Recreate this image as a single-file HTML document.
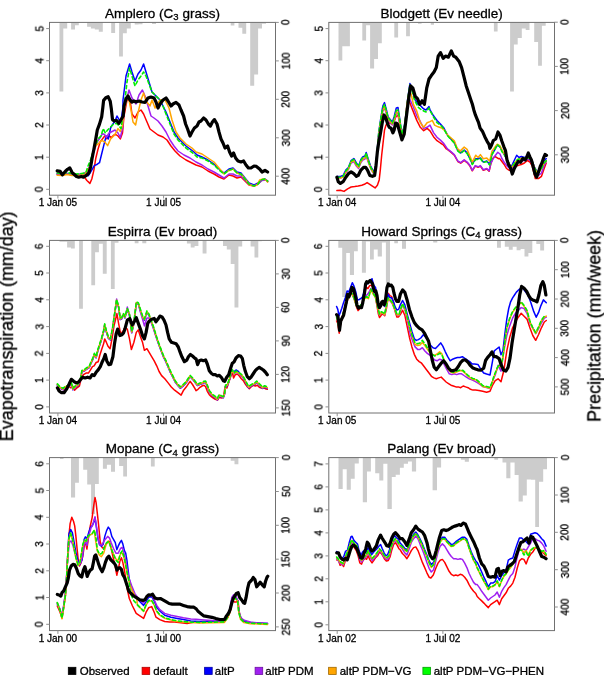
<!DOCTYPE html><html><head><meta charset="utf-8"><style>html,body{margin:0;padding:0;background:#fff;}svg{display:block;} text{will-change:transform;}</style></head><body>
<svg width="604" height="675" viewBox="0 0 604 675" font-family='"Liberation Sans", sans-serif'>
<style>text{stroke:#000;stroke-width:0.3px;}</style>
<rect width="604" height="675" fill="#fff"/>
<path d="M59.5 22.4H63.3V91.4H59.5ZM63.3 22.4H67.2V28.6H63.3ZM71.1 22.4H75V29.5H71.1ZM75 22.4H78.8V25.3H75ZM87.1 22.4H90.9V26.7H87.1ZM90.9 22.4H94.8V28.6H90.9ZM94.8 22.4H98.8V29.5H94.8ZM98.8 22.4H102.8V31.8H98.8ZM111.2 22.4H115.1V32.9H111.2ZM119.1 22.4H122.9V56.6H119.1ZM122.9 22.4H126.8V33.3H122.9ZM126.8 22.4H130.8V28.6H126.8ZM134.7 22.4H138.6V24.6H134.7ZM138.6 22.4H142.5V24.2H138.6ZM152 22.4H156V24H152ZM230.7 22.4H234.4V25.4H230.7ZM238.5 22.4H242.3V27.7H238.5ZM242.3 22.4H246.2V33.8H242.3ZM250.2 22.4H254.2V85.7H250.2ZM254.2 22.4H258.1V74.6H254.2ZM258.1 22.4H262V28.6H258.1ZM262 22.4H266V23.8H262Z" fill="#cccccc"/>
<clipPath id="c0"><rect x="49.5" y="22.4" width="226" height="172.8"/></clipPath>
<g clip-path="url(#c0)" fill="none" stroke-linejoin="round" stroke-linecap="round">
<polyline points="57.2,174.5 62.4,175.3 66.9,173.8 71.3,174.8 75.8,175.3 80.2,174.5 84.7,177.5 86.9,180.5 89.9,183.4 91.8,179 93.9,170.1 95.8,158.2 98,149.3 100.2,141.9 102.5,138.9 104.7,136 106.9,138.9 109.1,136 111.4,137.5 113.6,135.2 115.8,134.5 118,136 120.3,138.9 122.5,133 124,116 127,100 130,100 132,114 135,118 138,112 141,110 143.6,114 147,122 150,129 154,132 158,135 163,137 167,140 171,146 175,151 180,156 186,160 192,163 196,165 202,167 208,171 214,174 219,177 224,179 229,175 233,176 237,178 241,177 245,181 249,185 254,186 258,184 262,180 266,180 267.6,181.6" stroke="#ff0000" stroke-width="1.5"/>
<polyline points="57.2,173.8 62,174.5 67,173.5 72,174.5 77,175 81.7,173.8 84.7,174.5 88.4,175.7 91.3,170.8 94.3,165.6 97.3,164.2 99.5,162.7 101.7,153.8 103.9,144.9 106.2,136 108.4,138.9 110.6,127.8 112.8,124.1 115,121.1 117,116 119.1,119.7 121,121.1 122.9,107.8 123,100 126,76 129.6,64 132,72 135,81 138,74 141,70 143.6,64 146,72 149,82 152,92 156,96 160,100 163,106 166,112 170,122 174,132 178,138 182,142 186,146 190,149 194,152 197,155 202,157 208,160 214,164 219,169 224,173 229,169 233,168 237,172 241,173 245,178 249,183 254,185 258,183 261,180 265,179 267.6,181" stroke="#0000ff" stroke-width="1.5"/>
<polyline points="57.2,174 62,174.5 67,173.5 72,174.5 77,175 82,174.5 86.9,171.6 89.9,165.6 93.6,152.3 97.3,141.9 100.2,137.5 102.5,133.7 104.7,134.5 106.2,137.5 109.1,133 112.1,131.5 115,130 118,133 120.3,137.5 122.5,128.6 124,110 129,90 132,98 136,104 139,95 142.4,90 145,96 148,106 151,116 154,118 158,121 162,126 166,132 170,140 174,146 178,151 184,155 190,158 196,162 202,165 208,169 214,172 219,175 224,178 229,174 233,174 237,176 241,176 245,180 249,184 254,186 258,184 262,180.5 266,180 267.6,181.5" stroke="#a020f0" stroke-width="1.5"/>
<polyline points="57.2,175.3 62,175.5 67,174.5 72,175.5 77,175.5 82,175 84.7,175 86.9,170.8 89.9,167.1 92.8,152.3 95.8,145.6 98.7,143.4 101.7,140.4 104.7,141.9 107.6,145.6 110.6,139 113.6,136 115.8,133 118,128.6 120.3,131.5 122.5,125.6 124,110 128,95 131,110 133,122 135.6,125 138,113 141,100 143.6,93 146,101 150,106 152,100 155,108 160,100 165,100 169,108 172,120 176,132 180,138 186,144 192,148 196,152 202,154 208,158 214,162 219,168 224,174 228,171 233,169 237,173 242,175 246,180 250,185 254,186 257,185 259.6,180 263,179 266,180 267.6,182" stroke="#ffa500" stroke-width="1.5"/>
<polyline points="57.2,173 62,173.5 67,172.5 72,173.5 77,174 82,173.5 86,172.5 87.6,167.1 90.6,159.7 94.3,147.8 98,139 101,136 103.2,128.6 105.4,133 107.6,130 110.6,127 113.6,124.1 116.5,123.4 118.8,125.6 121,128.6 123.2,113.7 125,100 127,82 129.6,68 132,76 135,86 138,80 141,76 143.6,72 146,76 149,84 152,92 156,96 160,100 163,106 166,114 170,124 174,134 178,140 182,144 186,148 190,151 194,154 197,157 202,158 208,161 214,165 219,170 224,174 229,170 233,169 237,173 241,174 245,179 249,184 254,186 258,184 261,180 265,179 267.6,181" stroke="#00ee00" stroke-width="1.6" stroke-dasharray="3.2 2.8"/>
<polyline points="57.2,170.8 60.2,171.3 62.4,174.8 65.4,171.3 67.6,169.3 69.8,167.9 72,172.3 74.3,174.5 76.5,176.5 78.7,177.2 81.4,176.5 83.5,177.2 86.1,175.7 88.8,173 90.6,167.1 92.1,158.2 93.9,149.3 95.8,138.9 97.3,130 99.5,124.1 101.7,116.7 102.8,107.8 103.6,100.4 106.2,97.4 108.1,96.7 110.2,101.1 111.4,109.3 112.5,119.7 114.3,121.1 116.5,120.4 118.8,123.4 121,119.7 123.2,116 124,106 126,99 128,96 130,100 132,102 134,101 136,102 139,101 142,102 145,102.4 148,98 151,97 154,98 156,102 158,108 160,104 163,100 166,98 168,101 171,106 173,104 176,102.4 179,105 181,110 183.6,116 185.6,124 187.6,129 190,136 192,132 194.4,128 197,126 199,122 201,121 203.6,118 206,120 208.4,124 210.4,126 212.4,122 214.4,119.6 217,124 219,132 221,139 223,143 225,148 227.6,146 229.6,152 231.6,156 233.6,153 235.6,158 238,161 241,162 243.6,161 246,165 248.4,168 251,168 254,166 256.4,166.4 259.6,169 262,172 265,170.4 267.6,172" stroke="#000" stroke-width="3.2"/>
</g>
<rect x="49.5" y="22.4" width="226" height="172.8" fill="none" stroke="#707070" stroke-width="1"/>
<path d="M49.5 189.3H46.2M49.5 157.2H46.2M49.5 125H46.2M49.5 92.9H46.2M49.5 60.7H46.2M49.5 28.6H46.2M275.5 22.4H278.8M275.5 60.9H278.8M275.5 99.3H278.8M275.5 137.8H278.8M275.5 176.2H278.8M57.9 195.2V198.5M163.6 195.2V198.5" stroke="#909090" stroke-width="1" fill="none"/>
<text x="43.1" y="189.3" transform="rotate(-90 43.1 189.3)" text-anchor="middle" font-size="10">0</text>
<text x="43.1" y="157.2" transform="rotate(-90 43.1 157.2)" text-anchor="middle" font-size="10">1</text>
<text x="43.1" y="125" transform="rotate(-90 43.1 125)" text-anchor="middle" font-size="10">2</text>
<text x="43.1" y="92.9" transform="rotate(-90 43.1 92.9)" text-anchor="middle" font-size="10">3</text>
<text x="43.1" y="60.7" transform="rotate(-90 43.1 60.7)" text-anchor="middle" font-size="10">4</text>
<text x="43.1" y="28.6" transform="rotate(-90 43.1 28.6)" text-anchor="middle" font-size="10">5</text>
<text x="289.7" y="22.4" transform="rotate(-90 289.7 22.4)" text-anchor="middle" font-size="10">0</text>
<text x="289.7" y="60.9" transform="rotate(-90 289.7 60.9)" text-anchor="middle" font-size="10">100</text>
<text x="289.7" y="99.3" transform="rotate(-90 289.7 99.3)" text-anchor="middle" font-size="10">200</text>
<text x="289.7" y="137.8" transform="rotate(-90 289.7 137.8)" text-anchor="middle" font-size="10">300</text>
<text x="289.7" y="176.2" transform="rotate(-90 289.7 176.2)" text-anchor="middle" font-size="10">400</text>
<text x="57.9" y="205.9" text-anchor="middle" font-size="10">1 Jan 05</text>
<text x="163.6" y="205.9" text-anchor="middle" font-size="10">1 Jul 05</text>
<text x="162.5" y="17.6" text-anchor="middle" font-size="13.5">Amplero (C<tspan font-size="9.5" dy="2.5">3</tspan><tspan dy="-2.5"> grass)</tspan></text>
<path d="M338.5 22.4H342.3V60.6H338.5ZM342.3 22.4H346.1V46.3H342.3ZM346.1 22.4H349.9V46.3H346.1ZM362.3 22.4H366.1V40.6H362.3ZM366.1 22.4H370.1V25.3H366.1ZM370.1 22.4H374.1V68.6H370.1ZM374.1 22.4H378V59H374.1ZM378 22.4H381.8V43.2H378ZM394.3 22.4H398.1V37.5H394.3ZM406.1 22.4H409.9V36.2H406.1ZM418 22.4H421.6V23.8H418ZM430.8 22.4H434V24.8H430.8ZM493.9 22.4H497.6V31.4H493.9ZM510.1 22.4H513.9V91.4H510.1ZM513.9 22.4H517.7V44.4H513.9ZM517.7 22.4H521.8V38.1H517.7ZM521.8 22.4H525.7V28.6H521.8ZM525.7 22.4H529.5V29.9H525.7ZM534.2 22.4H538.1V41.9H534.2ZM538.1 22.4H541.9V65.7H538.1ZM541.9 22.4H545.7V25.7H541.9Z" fill="#cccccc"/>
<clipPath id="c1"><rect x="328.8" y="22.4" width="225.7" height="172.8"/></clipPath>
<g clip-path="url(#c1)" fill="none" stroke-linejoin="round" stroke-linecap="round">
<polyline points="336.9,190.6 340.4,190.2 344,191.4 347.6,188.8 351.1,187 354.7,186.6 358.2,186.1 361.8,185.2 364.4,184.3 367.1,182.6 369.8,184.3 372.4,186.1 375.1,187.9 377.4,185.2 379.2,179.9 380.4,169.2 381.7,155 383.1,142.6 384.5,130.1 385.8,125.7 387.6,122.1 389.3,123 391.6,123.9 393.8,122.1 395.9,116.8 398,115 399.6,123 401.9,137 404.6,129 406.8,110 408.8,99.7 412.2,108.9 416.8,120.4 420.3,127.3 423.7,130.7 427.1,128.4 430,130.9 433.5,136.7 437,140.7 440.4,143 443.3,144.8 446.2,148.8 447.4,149.3 450.9,152.2 454.3,155.1 457.8,161.5 460.7,163.2 464.2,160.3 467.1,162.6 470,166.1 472.3,170.8 475.2,166.1 478.1,167.3 480.4,166.1 483.3,170.2 486.8,169 489.1,171.3 490.8,164 492.6,158.7 494.9,156.4 498.4,158.7 499.5,158.4 501.9,161.5 504.2,164.5 506.5,168.5 508.9,170.1 511.2,170.9 513.5,168.5 515.9,166 518.2,165.4 521.3,164.5 524.4,163 527.5,160.5 529.9,162 532.2,166 535.3,178.6 538.4,178.6 541.5,176.3 543.9,169.3 546.2,163.1" stroke="#ff0000" stroke-width="1.5"/>
<polyline points="336.9,176.5 340.4,176.5 343.1,175.5 345.8,170 348.4,167.5 351.1,160.5 353.8,158.5 356.4,163 358.6,166 360.9,159.5 362.7,157 365,156 366.2,152.5 368,158.5 370.7,166.5 373.3,171 375.1,170 376.9,154 378.7,132.5 380.8,118 382.8,106 384.5,102.6 386.3,109.5 388.1,117 390.2,119.5 392.4,122 394.1,117 396.3,107.9 398,107.5 399.6,118.1 401.9,134.1 404.6,125 407.6,99.7 409.9,83.6 412.2,89.4 414.5,98.6 418,104.3 420.3,105.4 423.7,108.9 426,110 429,106.6 430,110 433.5,115.8 437,120.4 440.4,123.9 443.9,128 447.4,134.9 450.9,139 454.3,142.4 457.8,150.6 460.7,152.9 464.2,150 467.1,152.9 470,158.7 472.3,163.9 475.8,158.7 478.1,158.7 480.4,158 483.3,162.1 486.8,161 489.7,164.5 492,154 494.9,149.5 497.2,144.8 500,147 501.9,150.5 504.2,154.5 506.5,159 508.9,163.5 511.2,167 513.5,162 516.7,155.3 519,157.5 521.3,156.5 524.4,157.5 527.5,156.5 529.9,158 532.2,161 534.5,167 536.9,171.5 539.2,171 541.5,167.5 543.9,161.5 546.2,158.5" stroke="#0000ff" stroke-width="1.5"/>
<polyline points="336.9,178 340.4,178 343.1,177 345.8,172.5 348.4,169.5 351.1,163 353.8,161.5 356.4,166 358.6,168.5 360.9,162.5 362.7,160 365,159 366.2,156 368,161.5 370.7,168.5 373.3,173 375.1,172 376.9,157 378.7,136 380.8,122 382.8,111 384.5,108 386.3,113.5 388.1,120 390.2,122.5 392.4,125 394.1,121 396.3,113.5 398,113 399.6,122 401.9,136 404.6,128 406.8,108 408.8,97.4 412.2,104.3 416.8,115.8 420.3,121.5 423.7,128.4 427.1,127.3 430,125.1 433.5,132.6 437,137.2 440.4,140.1 443.9,143.6 447.4,148.8 450.9,151.7 454.3,154.6 457.8,161 460.7,162.7 464.2,159.8 467.1,162.1 470,165.6 472.3,170.3 475.2,165.6 478.1,166.8 480.4,165.6 483.3,169.7 486.8,168.5 489.1,170.8 490.8,163.3 493.2,158.7 495.5,155.2 497.8,152.3 500,154 501.9,158.5 504.2,162.3 506.5,165.4 508.9,167.8 511.2,169.5 513.5,166 515.9,163 518.2,162 521.3,161 524.4,160.5 527.5,159 529.9,160 532.2,163.5 534.5,170 536.9,175 539.2,175 541.5,173 543.9,166 546.2,161.5" stroke="#a020f0" stroke-width="1.5"/>
<polyline points="336.9,178 340.4,178 343.1,177 345.8,172 348.4,169 351.1,162 353.8,160.5 356.4,165 358.6,167.5 360.9,161.5 362.7,159 365,158 366.2,154.5 368,160.5 370.7,168 373.3,172.5 375.1,171.5 376.9,156 378.7,135 380.8,121 382.8,110 384.5,106.5 386.3,112.5 388.1,119 390.2,121.5 392.4,124 394.1,120 396.3,112.5 398,112 399.6,121 401.9,135.5 404.6,127 406.8,105 408.8,92.8 411.1,94 413.4,104.3 416.8,111.2 420.3,122.7 423.7,127.3 427.1,122.7 430,121.6 432.3,120.4 434.6,125.1 438.1,126.8 441.6,128 445.1,130.9 447.4,134.9 450.9,137.8 454.3,140.7 457.2,148.2 460.1,151.1 464.2,147.1 467.1,149.4 470,156.4 472.3,162.1 475.8,155.2 478.1,157.5 480.4,154.6 483.3,158.7 486.8,158.1 489.7,161 492,151.1 494.9,147.1 497.2,144.2 500,145.9 501.9,149.9 504.2,153.8 506.5,158.4 508.9,163.1 511.2,167.8 513.5,164.7 515.9,161.5 518.2,159.2 521.3,158.4 524.4,158.4 527.5,157.7 529.9,158.4 532.2,161.5 534.5,167.8 536.9,172.4 539.2,171.6 541.5,168.5 543.9,163.1 546.2,160.8" stroke="#ffa500" stroke-width="1.5"/>
<polyline points="336.9,177.2 340.4,177.2 343.1,176.3 345.8,171 348.4,168.3 351.1,161.2 353.8,159.4 356.4,163.9 358.6,166.6 360.9,160.3 362.7,157.7 365,156.8 366.2,153.2 368,159.4 370.7,167.4 373.3,171.9 375.1,171 376.9,155 378.7,133.7 380.8,119.4 382.8,107.9 384.5,104.3 386.3,110.6 388.1,117.7 390.2,120.3 392.4,123 394.1,118.6 396.3,110.6 398,110 399.6,119 401.9,134.5 404.6,126 407.6,101 409.9,85 412.2,91 414.5,100 418,107 420.3,109 423.7,111 426,112 429,108 430,110.5 433.5,117 437,122.7 440.4,125 443.9,129 447.4,135.5 450.9,139.5 454.3,143 457.8,151 460.7,153.5 464.2,150.5 467.1,153.5 470,159 472.3,164.5 475.8,159.5 478.1,159.5 480.4,158.5 483.3,162.5 486.8,161.5 489.7,165 492,154.5 494.9,149.5 497.2,144.5 500,147 501.9,151.5 504.2,154.5 506.5,158.4 508.9,163.1 511.2,167.8 513.5,164.7 515.9,161 518.2,159.2 521.3,158.4 524.4,158.4 527.5,157.7 529.9,158.4 532.2,161.5 534.5,167.8 536.9,172.4 539.2,171.6 541.5,168.5 543.9,163.1 546.2,160.8" stroke="#00ee00" stroke-width="1.6" stroke-dasharray="3.2 2.8"/>
<polyline points="336.9,177.2 338.3,181.7 340.4,183.4 343.1,181.7 345.8,177.2 348.4,173.7 351.1,171.9 353.8,173.7 356.4,176.3 358.2,175.4 360.9,170.1 363.6,167.4 365.7,167.4 367.5,170.1 369.8,175.4 372.4,176.3 374.6,175.4 376,165.7 377.4,151.4 378.7,142.6 380.4,133.7 382.2,123 384,115 385.8,117.7 387.6,123.9 389.3,127.4 391.1,128.3 392.9,132.8 394.1,130.1 395.6,123 397.3,123.8 399.6,131.8 401.9,139.9 404.2,134.1 406.5,115.8 408.8,97.4 410.6,85.9 412.9,88.2 415.2,96.3 417.5,98.6 419.8,104.3 422.1,100.8 424.4,104.3 426.7,88.2 429,79 431.3,75.6 434,72.1 436.3,67.6 438.2,56.1 440.5,52.6 443.2,58.4 445.5,56.1 448.3,57.2 451.3,51 453.6,56.1 455.8,57.2 459.3,61.8 461.6,67.6 463.9,76.7 466.2,85.9 468.5,92.8 470.8,99.7 472.3,104 473.9,110.2 475.4,114.9 477,118.8 478.6,122.7 480.1,128.1 482.4,131.2 484.8,136.7 487.1,141.3 489,144.4 489.9,148.3 491.5,145.2 493.3,140.5 495.7,139 498,132 499.9,135.1 501.9,141.3 503.9,146.8 505.5,150.7 507,160 508.6,164.7 510.4,167.8 512.3,174 514.3,168.5 516.3,164.7 518.2,161.5 520.5,162.3 522.9,158.4 525.2,160 526.8,156.9 528.3,153 529.9,156.9 531.4,160 533,166.2 535,174 536.6,177.1 538.4,172.4 540.3,166.2 541.9,163.1 543.4,158.4 545,154.5 546.5,155.3" stroke="#000" stroke-width="3.2"/>
</g>
<rect x="328.8" y="22.4" width="225.7" height="172.8" fill="none" stroke="#707070" stroke-width="1"/>
<path d="M328.8 189.3H325.5M328.8 157.2H325.5M328.8 125H325.5M328.8 92.9H325.5M328.8 60.7H325.5M328.8 28.6H325.5M554.5 22.2H557.8M554.5 66.4H557.8M554.5 110.6H557.8M554.5 154.8H557.8M337.2 195.2V198.5M442.9 195.2V198.5" stroke="#909090" stroke-width="1" fill="none"/>
<text x="322.4" y="189.3" transform="rotate(-90 322.4 189.3)" text-anchor="middle" font-size="10">0</text>
<text x="322.4" y="157.2" transform="rotate(-90 322.4 157.2)" text-anchor="middle" font-size="10">1</text>
<text x="322.4" y="125" transform="rotate(-90 322.4 125)" text-anchor="middle" font-size="10">2</text>
<text x="322.4" y="92.9" transform="rotate(-90 322.4 92.9)" text-anchor="middle" font-size="10">3</text>
<text x="322.4" y="60.7" transform="rotate(-90 322.4 60.7)" text-anchor="middle" font-size="10">4</text>
<text x="322.4" y="28.6" transform="rotate(-90 322.4 28.6)" text-anchor="middle" font-size="10">5</text>
<text x="568.7" y="22.2" transform="rotate(-90 568.7 22.2)" text-anchor="middle" font-size="10">0</text>
<text x="568.7" y="66.4" transform="rotate(-90 568.7 66.4)" text-anchor="middle" font-size="10">100</text>
<text x="568.7" y="110.6" transform="rotate(-90 568.7 110.6)" text-anchor="middle" font-size="10">200</text>
<text x="568.7" y="154.8" transform="rotate(-90 568.7 154.8)" text-anchor="middle" font-size="10">300</text>
<text x="337.2" y="205.9" text-anchor="middle" font-size="10">1 Jan 04</text>
<text x="442.9" y="205.9" text-anchor="middle" font-size="10">1 Jul 04</text>
<text x="441.6" y="17.6" text-anchor="middle" font-size="13.5">Blodgett (Ev needle)</text>
<path d="M59.5 240.4H63.3V241.8H59.5ZM63.3 240.4H67.1V241.8H63.3ZM67.1 240.4H71V247.6H67.1ZM71 240.4H74.8V248.5H71ZM79.1 240.4H82.9V308.8H79.1ZM91.3 240.4H95.1V285.2H91.3ZM95.1 240.4H98.9V252.3H95.1ZM98.9 240.4H102.8V243.7H98.9ZM102.8 240.4H106.7V273.8H102.8ZM110.9 240.4H114.7V289H110.9ZM114.7 240.4H118.5V242.8H114.7ZM134.7 240.4H138.5V243.3H134.7ZM142.3 240.4H146.3V243.3H142.3ZM186.9 240.4H190.7V243.4H186.9ZM190.7 240.4H194.6V247.6H190.7ZM194.6 240.4H198.4V246.1H194.6ZM202.6 240.4H206.5V253.4H202.6ZM223 240.4H226.8V246.1H223ZM226.8 240.4H230.7V249.5H226.8ZM230.7 240.4H234.5V263.9H230.7ZM234.5 240.4H238.4V307.5H234.5ZM238.4 240.4H242.2V246.6H238.4ZM250.6 240.4H254.5V246.6H250.6ZM254.5 240.4H258.3V257.6H254.5ZM258.3 240.4H261.8V241.2H258.3Z" fill="#cccccc"/>
<clipPath id="c2"><rect x="49.5" y="240.4" width="226" height="172.6"/></clipPath>
<g clip-path="url(#c2)" fill="none" stroke-linejoin="round" stroke-linecap="round">
<polyline points="57.4,384.5 59.9,387.8 63.1,389.7 65.6,387 68,385.3 70.5,387.8 72.9,386.2 74.6,390.2 77,387.8 79.4,386.2 81.1,378.8 83.5,374.7 86,373.1 88.4,373.1 90.5,369.9 92.5,366.6 94.1,365.8 96.1,362.5 98.2,361.7 99.8,355.2 101.9,348.7 103.6,343.8 104.7,338.9 106.3,342.2 108,346.2 110.1,348.7 112,338.9 114,325.9 115.6,319.3 116.9,313.6 118.6,323.4 120.2,331.6 122.1,333.2 124.9,327.5 127.3,329.1 129.5,338.9 131.4,349.5 133.9,342.2 136.3,332.4 138.3,329.9 140.4,336.4 142.5,342.2 144.4,350.3 146.9,348.7 149.3,352.7 151.8,356.8 154.2,360.9 156.7,365.8 159.1,371.5 161.6,375.6 164.8,378.8 168.1,382.9 171.3,387 174.6,390.2 177.9,392.7 181.1,395.1 183.6,390.2 186.8,386.2 190.1,381.3 192.5,384.5 195,388.6 196,390.7 198,389.3 200,387.3 202,386 204,385.3 205.6,386.7 207.3,391.3 209.3,394.7 211.3,396.7 213.3,398 215.3,399.3 217.6,400 219.3,397.3 221.3,398 223.3,397.3 225.1,386.7 226.9,388 229.1,381.3 230.9,376 232.3,372 233.6,378 235.3,374.7 237.3,374 239.3,376 241.3,378.7 243.3,380.7 245.3,384 247.3,386.7 249.3,388.7 251.3,386.7 253.3,385.3 255.3,386 257.3,385.3 259.3,387.3 261.3,388 263.3,387.3 265.3,388.7 267.3,389.3" stroke="#ff0000" stroke-width="1.5"/>
<polyline points="57.4,385.3 59.9,388.1 63.1,389.7 65.6,387.3 68,387.3 71.3,384 72.9,389.7 75.4,387.3 77.8,385.6 80.3,380.7 81.9,371.8 84.3,371 86.8,369 89.2,367.7 91.2,362.8 92.8,359.5 94.4,354.7 96.1,357.9 97.7,351.4 99.3,346.5 101.4,340 103.6,331.8 104.7,325.3 106.3,331.8 108.5,338.4 110.4,340 112.4,330.2 114.5,315.5 116.6,300.9 118.6,307.4 120.2,319.6 121.8,318.8 123.4,314.7 124.9,318 127.3,309.8 129.5,315.5 131.7,332.7 133.9,323.7 136.3,303.3 138.3,304.1 140.4,310.7 142.8,318 144.4,320.4 146.9,312.3 149,315.5 151,321.2 153.4,327.8 155.9,335.9 158.3,343.3 160.7,349.8 163.2,356.3 165.6,361.2 168.1,366.9 170.5,372.6 173,377.5 175.4,382.4 177.9,385.5 180.3,388.3 182.7,386.5 185.2,384 187.6,380.7 190.1,376.7 192.5,379.1 195,382.4 197.4,385.6 200,384.4 202,383.8 204,382.7 205.6,382.4 207.3,386.4 209.3,391.8 211.3,394.4 213.3,396.4 215.3,397.8 217.3,399.8 219.3,395.8 221.3,397.1 223.3,397.8 224.7,393.8 225.6,386.4 227.3,385.8 229.1,381.1 230.9,374.4 232.3,371.1 234,371.5 236,370 238.4,371.5 240.7,375.1 242.7,377.1 244.7,380.4 246.7,384.4 248.7,387.8 250.7,386.4 252.7,385.1 254.7,384.4 256.7,382.4 258.7,384.4 260.7,386.4 262.7,388.4 264.7,387.1 267.3,388.4" stroke="#0000ff" stroke-width="1.5"/>
<polyline points="57.4,385.1 59.9,387.9 63.1,389.5 65.6,387.1 68,387.1 71.3,383.8 72.9,389.5 75.4,387.1 77.8,385.4 80.3,380.5 81.9,371.6 84.3,370.8 86.8,368.8 89.2,367.5 91.2,362.6 92.8,359.3 94.4,354.5 96.1,357.7 97.7,351.2 99.3,346.3 101.4,339.8 103.6,331.6 104.7,325.1 106.3,331.6 108.5,338.2 110.4,339.8 112.4,330 114.5,315.3 116.6,299 118.6,307.2 120.2,319.4 121.8,318.6 123.4,314.5 124.9,317.8 127.3,307.1 129.5,315.3 131.7,332.5 133.9,323.5 136.3,303.1 138.3,303.9 140.4,312 142.8,320 144.4,325.9 146.9,318 149,318 151,322 153.4,328.5 155.9,336.5 158.3,343.1 160.7,349.6 163.2,356.1 165.6,361 168.1,366.7 170.5,372.4 173,377.3 175.4,382.2 177.9,385.4 180.3,387.9 182.7,386.2 185.2,383.8 187.6,380.5 190.1,376.5 192.5,378.9 195,382.2 197.4,385.4 200,384.2 202,383.6 204,382.5 205.6,382.2 207.3,386.2 209.3,391.6 211.3,394.2 213.3,396.2 215.3,397.6 217.3,399.6 219.3,395.6 221.3,396.9 223.3,397.6 224.7,393.6 225.6,386.2 227.3,385.6 229.1,380.9 230.9,374.2 232.3,370.9 234,374.2 236,372.2 238.4,373.6 240.7,374.9 242.7,376.9 244.7,380.2 246.7,384.2 248.7,387.6 250.7,386.2 252.7,384.9 254.7,384.2 256.7,382.2 258.7,384.2 260.7,386.2 262.7,388.2 264.7,386.9 267.3,388.2" stroke="#a020f0" stroke-width="1.5"/>
<polyline points="57.4,384.6 59.9,387.4 63.1,389 65.6,386.6 68,386.6 71.3,383.3 72.9,389 75.4,386.6 77.8,384.9 80.3,380 81.9,371.1 84.3,370.3 86.8,368.3 89.2,367 91.2,362.1 92.8,358.8 94.4,354 96.1,357.2 97.7,350.7 99.3,345.8 101.4,339.3 103.6,331.1 104.7,324.6 106.3,331.1 108.5,337.7 110.4,339.3 112.4,329.5 114.5,314.8 116.6,300.2 118.6,306.7 120.2,318.9 121.8,318.1 123.4,314 124.9,317.3 127.3,309.1 129.5,314.8 131.7,332 133.9,323 136.3,302.6 138.3,303.4 140.4,310 142.8,317.3 144.4,319.7 146.9,311.6 149,314.8 151,320.5 153.4,327.1 155.9,335.2 158.3,342.6 160.7,349.1 163.2,355.6 165.6,360.5 168.1,366.2 170.5,371.9 173,376.8 175.4,381.7 177.9,384.9 180.3,387.4 182.7,385.7 185.2,383.3 187.6,380 190.1,376 192.5,378.4 195,381.7 197.4,384.9 200,383.7 202,383.1 204,382 205.6,381.7 207.3,385.7 209.3,391.1 211.3,393.7 213.3,395.7 215.3,397.1 217.3,399.1 219.3,395.1 221.3,396.4 223.3,397.1 224.7,393.1 225.6,385.7 227.3,385.1 229.1,380.4 230.9,373.7 232.3,370.4 234,373.7 236,371.7 238.4,373.1 240.7,374.4 242.7,376.4 244.7,379.7 246.7,383.7 248.7,387.1 250.7,385.7 252.7,384.4 254.7,383.7 256.7,381.7 258.7,383.7 260.7,385.7 262.7,387.7 264.7,386.4 267.3,387.7" stroke="#ffa500" stroke-width="1.5"/>
<polyline points="57.4,383.9 59.9,386.7 63.1,388.3 65.6,385.9 68,385.9 71.3,382.6 72.9,388.3 75.4,385.9 77.8,384.2 80.3,379.3 81.9,370.4 84.3,369.6 86.8,367.6 89.2,366.3 91.2,361.4 92.8,358.1 94.4,353.3 96.1,356.5 97.7,350 99.3,345.1 101.4,338.6 103.6,330.4 104.7,323.9 106.3,330.4 108.5,337 110.4,338.6 112.4,328.8 114.5,314.1 116.6,299.5 118.6,306 120.2,318.2 121.8,317.4 123.4,313.3 124.9,316.6 127.3,308.4 129.5,314.1 131.7,331.3 133.9,322.3 136.3,301.9 138.3,302.7 140.4,309.3 142.8,316.6 144.4,319 146.9,310.9 149,314.1 151,319.8 153.4,326.4 155.9,334.5 158.3,341.9 160.7,348.4 163.2,354.9 165.6,359.8 168.1,365.5 170.5,371.2 173,376.1 175.4,381 177.9,384.2 180.3,386.7 182.7,385 185.2,382.6 187.6,379.3 190.1,375.3 192.5,377.7 195,381 197.4,384.2 200,383 202,382.4 204,381.3 205.6,381 207.3,385 209.3,390.4 211.3,393 213.3,395 215.3,396.4 217.3,398.4 219.3,394.4 221.3,395.7 223.3,396.4 224.7,392.4 225.6,385 227.3,384.4 229.1,379.7 230.9,373 232.3,369.7 234,373 236,371 238.4,372.4 240.7,373.7 242.7,375.7 244.7,379 246.7,383 248.7,386.4 250.7,385 252.7,383.7 254.7,383 256.7,381 258.7,383 260.7,385 262.7,387 264.7,385.7 267.3,387" stroke="#00ee00" stroke-width="1.6" stroke-dasharray="3.2 2.8"/>
<polyline points="57.4,387.8 59.1,391 61.5,392.7 64,392.7 66.4,389.4 68.9,384.5 71.3,379.3 73.7,381.3 76.2,382.9 78.6,382.1 80.7,379.3 82.7,377.2 85.1,378 87.6,377.2 90,378 92.2,374.7 94.1,375.6 96.1,372.3 98.2,369.9 100.3,366.6 102.3,361.7 103.9,358.4 105.2,354.4 106.8,360.9 108.8,364.6 110.7,364.2 112.9,356.8 114.5,343.8 116.1,334 117.7,329.1 119.9,335.6 121.8,334.8 123.4,333.2 124.9,329.1 127.3,320.1 129.8,318.5 132.2,325 134.7,321 136.3,317.7 138.3,323.4 140.4,329.1 142.5,335.6 144.4,338.9 146.1,332.4 147.7,323.4 149.3,321 151.8,319.3 154.2,318.5 155.9,321.8 157.8,319.3 159.9,316.1 162,316.9 164,320.1 166,325 167.6,332.4 169.2,338.9 171.3,342.2 173.8,343 176.2,343.8 178.3,347 180,351.9 181.9,356.8 184.4,361.7 186.8,360.1 188.4,356.8 190.4,354.4 192.5,356 195,358.4 196,358.7 197.6,364.7 199.3,360.7 201.3,360 203.3,360.7 205.6,360 207.3,364 209.3,370.7 211.3,373.3 213.3,374.7 215.3,374.7 217.3,376 219.3,375.3 221.3,377.3 223.3,380.7 224.7,381.3 226.7,377.3 228.7,374.7 230.7,368 232.3,363.3 234,362 236,358 238.4,355.7 240.7,356 242.4,358.7 243.7,365.3 245.3,371.3 247.3,376.7 249.3,378.7 250.9,377.3 253.1,374 255.3,370.7 257.3,368.7 259.3,367.3 261.3,368.7 263.3,370 265.3,372 267.3,374.7" stroke="#000" stroke-width="3.2"/>
</g>
<rect x="49.5" y="240.4" width="226" height="172.6" fill="none" stroke="#707070" stroke-width="1"/>
<path d="M49.5 406.9H46.2M49.5 380.1H46.2M49.5 353.4H46.2M49.5 326.6H46.2M49.5 299.8H46.2M49.5 273H46.2M49.5 246.3H46.2M275.5 240.4H278.8M275.5 273.9H278.8M275.5 307.4H278.8M275.5 340.9H278.8M275.5 374.4H278.8M275.5 407.9H278.8M57.9 413V416.3M163.6 413V416.3" stroke="#909090" stroke-width="1" fill="none"/>
<text x="43.1" y="406.9" transform="rotate(-90 43.1 406.9)" text-anchor="middle" font-size="10">0</text>
<text x="43.1" y="380.1" transform="rotate(-90 43.1 380.1)" text-anchor="middle" font-size="10">1</text>
<text x="43.1" y="353.4" transform="rotate(-90 43.1 353.4)" text-anchor="middle" font-size="10">2</text>
<text x="43.1" y="326.6" transform="rotate(-90 43.1 326.6)" text-anchor="middle" font-size="10">3</text>
<text x="43.1" y="299.8" transform="rotate(-90 43.1 299.8)" text-anchor="middle" font-size="10">4</text>
<text x="43.1" y="273" transform="rotate(-90 43.1 273)" text-anchor="middle" font-size="10">5</text>
<text x="43.1" y="246.3" transform="rotate(-90 43.1 246.3)" text-anchor="middle" font-size="10">6</text>
<text x="289.7" y="240.4" transform="rotate(-90 289.7 240.4)" text-anchor="middle" font-size="10">0</text>
<text x="289.7" y="273.9" transform="rotate(-90 289.7 273.9)" text-anchor="middle" font-size="10">30</text>
<text x="289.7" y="307.4" transform="rotate(-90 289.7 307.4)" text-anchor="middle" font-size="10">60</text>
<text x="289.7" y="340.9" transform="rotate(-90 289.7 340.9)" text-anchor="middle" font-size="10">90</text>
<text x="289.7" y="374.4" transform="rotate(-90 289.7 374.4)" text-anchor="middle" font-size="10">120</text>
<text x="289.7" y="407.9" transform="rotate(-90 289.7 407.9)" text-anchor="middle" font-size="10">150</text>
<text x="57.9" y="423.7" text-anchor="middle" font-size="10">1 Jan 04</text>
<text x="163.6" y="423.7" text-anchor="middle" font-size="10">1 Jul 04</text>
<text x="162.5" y="235.8" text-anchor="middle" font-size="13.5">Espirra (Ev broad)</text>
<path d="M338.3 240.4H342.2V247.8H338.3ZM342.2 240.4H346.2V297H342.2ZM346.2 240.4H349.9V253.1H346.2ZM349.9 240.4H354V275.1H349.9ZM354 240.4H357.8V251.3H354ZM361.9 240.4H365.9V272.8H361.9ZM365.9 240.4H370V241.5H365.9ZM370 240.4H373.8V259.4H370ZM373.8 240.4H377.7V249.6H373.8ZM377.7 240.4H381.9V256.5H377.7ZM381.9 240.4H385.9V242.6H381.9ZM385.9 240.4H390V283H385.9ZM394.3 240.4H397.9V243.2H394.3ZM402 240.4H406V248.7H402ZM433.2 240.4H437.3V242.4H433.2ZM497 240.4H500.9V247.8H497ZM504.8 240.4H508.8V246.7H504.8ZM508.8 240.4H512.7V249.8H508.8ZM512.7 240.4H516.6V246.7H512.7ZM516.6 240.4H520.6V250.3H516.6ZM520.6 240.4H524.5V249H520.6ZM524.5 240.4H528.4V256.6H524.5ZM528.4 240.4H532.3V252.9H528.4ZM536.3 240.4H540.2V244H536.3ZM540.2 240.4H544.1V250.6H540.2Z" fill="#cccccc"/>
<clipPath id="c3"><rect x="328.8" y="240.4" width="225.7" height="172.6"/></clipPath>
<g clip-path="url(#c3)" fill="none" stroke-linejoin="round" stroke-linecap="round">
<polyline points="336.6,321 337.8,323.3 339.2,333.2 340.7,323.3 342.4,316.3 344.2,309.4 345.9,302.4 347.6,297.8 349.4,295.5 351.7,288.5 353.4,292 355.2,299 356.6,307.1 358.1,310.6 359.8,308.8 361.5,307.1 362.7,301.3 364.4,294.3 366.2,287.4 367.9,288.5 369.7,285.6 371.4,285.1 373.1,288.5 374.9,292 376.6,303.6 378.4,314 379.5,317.5 381.2,315.2 383,314 384.7,315.8 386.5,308.2 388.2,293.2 389.9,295.5 391.7,296.7 393.4,302.4 395.2,311.7 396.9,316.9 398.6,316.9 400.4,314.3 402.6,310.3 404.8,315.2 407,325.7 409.4,337.2 411.9,346.9 414.3,354.3 416.7,359.2 419.2,361.6 421.6,363.2 424.1,366.5 426.5,369.7 429,373 431.4,376.3 433.9,377.9 436.3,378.7 438.7,377.9 441.2,377.1 443.6,379.5 446.1,382 448.5,383.6 451,385.2 453.4,386 455.9,386.9 458.3,386.9 460.7,387.7 463.2,386 465.6,386.9 468.1,387.7 470.5,389.3 473,390.1 475.4,390.1 478.9,390.4 482.7,391.3 486.6,392.3 490,391.3 492.3,385.6 495.2,380.7 498.1,378.8 501,381.7 503.9,370.2 506.8,350.9 509.7,337.4 512.6,327.8 515.4,322 518.3,317.2 521.2,313.3 524.1,316.2 527,319.1 529.9,327.8 532.8,335.5 535.7,340.3 538.6,334.5 541.4,327.8 544.3,322 546.3,320.5" stroke="#ff0000" stroke-width="1.5"/>
<polyline points="336.6,306.5 337.8,309.4 339,315.8 340.1,312.9 341.8,308.2 343.6,302.4 345.3,297.8 347.1,290.9 348.8,292 350.5,287.4 352.3,282.7 354,286.2 355.8,292 357.5,300.1 359.2,299.5 361,298.4 362.7,296.7 364.4,289.7 366.2,285.1 367.9,282.7 369.7,281.6 372,278.7 373.7,285.1 375.5,287.4 377.2,296.7 378.9,305.9 380.7,305.9 383,302.4 384.7,306.5 386.5,301.3 388.2,294.3 389.9,297.8 391.7,297.8 393.4,301.3 395.2,307.1 396.9,310 398.6,309.4 400.4,304.6 402.6,300.5 404.8,304.6 407,313.5 409.4,322.5 411.9,331.4 414.3,338.8 416.3,340.4 418.4,339.6 420.8,338 423.3,334.7 425.7,337.2 428.2,340.4 430.6,345.3 433,347.7 435.5,348.6 437.9,346.1 440.7,342.9 442.8,346.1 445.3,351.8 447.7,356.7 450.2,360.8 452.6,359.2 455,358.3 457.5,357.5 459.9,357.5 462.4,356.7 464.8,358.3 467.3,360 469.7,361.6 472.2,364 474.6,364 477.9,364.4 480.8,369.2 483.7,373 486.6,374 490,375 492.3,362.4 494.3,350.9 496.6,349 499.1,347 501,354.7 502.9,350.9 504.9,333.6 506.8,319.1 508.7,308.5 510.6,301.8 512.6,297.9 514.5,295 516.4,292.1 519.3,289.3 522.2,287.3 525.1,291.2 528,295 530.9,302.7 533.7,311.4 536.2,317.2 538.6,312.4 540.9,305.6 543.4,299.9 546.3,302.7" stroke="#0000ff" stroke-width="1.5"/>
<polyline points="336.6,317 338,323 339.2,331 340.7,323 342.4,317 344.2,311 345.9,305.5 347.6,300 349.4,297.5 350.5,293 352.3,294.5 354,298.5 356.6,306.5 359.8,307 362.7,303 364.4,298.5 366.8,295 368.5,293 370.8,288.5 373.1,292.5 375.5,297.5 377.8,308 379.5,315 381.2,313 383,313.5 384.7,315 386.5,306 388.2,299 389.9,300.5 392.3,303.5 394.6,309.5 396.9,315 399.2,315 402.6,304.6 405.3,311.1 407.8,322.5 410.2,333.9 412.7,341.2 415.1,346.9 417.6,349.4 420,349.4 422.4,347.7 424.9,351 427.3,353.4 429.8,355.1 432.2,357.5 434.7,360 437.1,360.8 439.6,359.2 442,360 444.4,364.9 446.9,369.7 449.3,373.8 451.8,374.6 454.2,373.8 456.7,374.6 459.1,373.8 461.6,373.8 464,375.5 466.4,377.1 468.9,378.7 471.3,379.5 474.6,381.2 478.9,383.6 482.7,386.5 486.6,387.5 490,388.5 492.3,381.7 495.2,375 498.1,365.3 501,371.1 503.9,350.9 506.8,335.5 509.7,325.9 512.6,318.2 515.4,313.3 518.3,310.4 521.2,307.6 524.1,308.5 527,313.3 529.9,323 532.8,327.8 535.7,333.6 538.6,328.7 541.4,323 544.3,318.2 546.3,317.2" stroke="#a020f0" stroke-width="1.5"/>
<polyline points="336.6,317.1 338,322.8 339.2,331.1 340.7,322.8 342.4,317.1 344.2,310.8 345.9,305.6 347.6,299.8 349.4,297.3 350.5,292.8 352.3,294.6 354,298.6 356.6,306.7 359.8,307.3 362.7,303.2 364.4,298.8 366.8,297.5 368.5,298.6 370.8,289.9 373.1,294 375.5,297.5 377.8,307.9 379.5,314.8 381.2,312.5 383,313.3 384.7,314.8 386.5,305.6 388.2,298.6 389.9,300.3 392.3,303.2 394.6,309 396.9,314.8 399.2,314.8 400.4,310.2 402.6,304.5 405.3,310.2 407.8,320 410.2,329.8 412.7,338 415.1,344.5 417.6,345.5 420,345 422.4,342.5 424.9,345.5 427.3,349 429.8,352.5 432.2,354.5 434.7,355.5 437.1,354 439.6,351.8 441.7,353.5 443.6,358.5 446.1,365.7 448.5,369.7 451,372.2 453.4,373 455.9,372.2 458.3,371.4 460.7,370.5 463.2,371.4 465.6,373.8 468.1,376.3 470.5,377.9 473,379.5 475.4,379.5 478.9,382.5 482.7,386.4 486.6,387.3 490,388.3 491.9,383.5 494.3,375.8 497.1,369 499.1,365.2 501,367.1 502.9,357.5 504.9,342.1 506.8,328.6 509.7,319 512.6,312.2 515.4,308.4 518.3,305.5 521.2,302.6 524.1,306.4 527,311.2 529.9,321.8 532.8,328.6 535.7,333.4 538.6,327.6 541.4,320.9 544.3,317 546.3,316.1" stroke="#ffa500" stroke-width="1.5"/>
<polyline points="336.6,316.3 338,322 339.2,330.3 340.7,322 342.4,316.3 344.2,310 345.9,304.8 347.6,299 349.4,296.5 350.5,292 352.3,293.8 354,297.8 356.6,305.9 359.8,306.5 362.7,302.4 364.4,298 366.8,296.7 368.5,297.8 370.8,289.1 373.1,293.2 375.5,296.7 377.8,307.1 379.5,314 381.2,311.7 383,312.5 384.7,314 386.5,304.8 388.2,297.8 389.9,299.5 392.3,302.4 394.6,308.2 396.9,314 399.2,314 400.4,309.4 402.6,303.7 405.3,309.4 407.8,319.2 410.2,329 412.7,337.2 415.1,342.9 417.6,343.7 420,342.9 422.4,340.4 424.9,343.7 427.3,347.7 429.8,351.8 432.2,354.3 434.7,355.9 437.1,355.1 439.6,353.4 441.7,354.3 443.6,359.2 446.1,364.9 448.5,368.9 451,371.4 453.4,372.2 455.9,371.4 458.3,370.6 460.7,369.7 463.2,370.6 465.6,373 468.1,375.5 470.5,377.1 473,378.7 475.4,378.7 478.9,381.7 482.7,385.6 486.6,386.5 490,387.5 491.9,382.7 494.3,375 497.1,368.2 499.1,364.4 501,366.3 502.9,356.7 504.9,341.3 506.8,327.8 509.7,318.2 512.6,311.4 515.4,307.6 518.3,304.7 521.2,301.8 524.1,305.6 527,310.4 529.9,321 532.8,327.8 535.7,332.6 538.6,326.8 541.4,320.1 544.3,316.2 546.3,315.3" stroke="#00ee00" stroke-width="1.6" stroke-dasharray="3.2 2.8"/>
<polyline points="336.6,314.6 337.8,315.8 338.7,322.1 339.5,330.3 340.7,321 341.8,318.7 343.6,315.2 345.3,307.1 346.5,301.3 347.6,294.3 348.8,296.7 350.5,293.2 351.9,287.4 353.4,288.5 354.6,293.2 355.8,297.8 356.9,304.8 358.4,308.2 360,307.1 361.5,307.7 362.7,303 363.5,297.8 364.4,293.8 365.6,283.9 366.8,281.6 367.9,282.7 369.1,281.6 370.2,280.4 371.4,282.2 372.6,283.9 373.5,288.5 374.6,291.4 375.8,290.9 377,295.5 378.1,303.6 379.5,307.7 380.7,305.9 381.8,301.9 383,301.3 384.1,304.8 385.1,302.4 385.9,296.7 387,287.4 388.2,283.9 389.7,285.6 391.3,285.1 392.8,287.4 394,293.2 395.5,299 396.9,301.3 398.6,301.3 400.4,294 402.6,289.9 404.8,292.3 407,299.7 409.4,309.4 411.9,316.8 414.3,322.5 416.7,325.7 419.2,328.2 422.1,329.8 424.4,333.1 426.5,337.2 428.6,341.2 430.3,350.2 432.2,360 434.2,367.3 436.3,369.7 438.7,366.5 441.2,363.2 443.6,360.8 446.1,364 448.5,368.1 451,370.6 453.4,370.6 455.9,369.7 458.3,366.5 460.7,362.4 463.2,360 465.6,360 468.1,362.4 470.5,365.7 473,368.1 475.4,368.9 477.9,369.8 480.8,370.2 483.7,368.2 485.6,360.5 487.5,357.6 490,354.7 492,351.9 493.9,356.7 496.2,356.7 499.1,358.6 501,364.4 503.5,370.2 505.8,371.1 508.1,367.3 510.1,357.6 512,343.2 513.9,331.6 515.8,320.1 517.8,308.5 519.7,295 521.6,286.4 524.1,288.3 526.6,291.2 528.9,296 530.9,298.9 532.8,299.9 535.1,300.8 537,301.8 538.9,295 540.9,285.4 542.8,281.6 544.3,285.4 545.9,295" stroke="#000" stroke-width="3.2"/>
</g>
<rect x="328.8" y="240.4" width="225.7" height="172.6" fill="none" stroke="#707070" stroke-width="1"/>
<path d="M328.8 406.9H325.5M328.8 380.1H325.5M328.8 353.4H325.5M328.8 326.6H325.5M328.8 299.8H325.5M328.8 273H325.5M328.8 246.3H325.5M554.5 240.4H557.8M554.5 269.7H557.8M554.5 299H557.8M554.5 328.3H557.8M554.5 357.6H557.8M554.5 386.9H557.8M337.2 413V416.3M442.9 413V416.3" stroke="#909090" stroke-width="1" fill="none"/>
<text x="322.4" y="406.9" transform="rotate(-90 322.4 406.9)" text-anchor="middle" font-size="10">0</text>
<text x="322.4" y="380.1" transform="rotate(-90 322.4 380.1)" text-anchor="middle" font-size="10">1</text>
<text x="322.4" y="353.4" transform="rotate(-90 322.4 353.4)" text-anchor="middle" font-size="10">2</text>
<text x="322.4" y="326.6" transform="rotate(-90 322.4 326.6)" text-anchor="middle" font-size="10">3</text>
<text x="322.4" y="299.8" transform="rotate(-90 322.4 299.8)" text-anchor="middle" font-size="10">4</text>
<text x="322.4" y="273" transform="rotate(-90 322.4 273)" text-anchor="middle" font-size="10">5</text>
<text x="322.4" y="246.3" transform="rotate(-90 322.4 246.3)" text-anchor="middle" font-size="10">6</text>
<text x="568.7" y="240.4" transform="rotate(-90 568.7 240.4)" text-anchor="middle" font-size="10">0</text>
<text x="568.7" y="269.7" transform="rotate(-90 568.7 269.7)" text-anchor="middle" font-size="10">100</text>
<text x="568.7" y="299" transform="rotate(-90 568.7 299)" text-anchor="middle" font-size="10">200</text>
<text x="568.7" y="328.3" transform="rotate(-90 568.7 328.3)" text-anchor="middle" font-size="10">300</text>
<text x="568.7" y="357.6" transform="rotate(-90 568.7 357.6)" text-anchor="middle" font-size="10">400</text>
<text x="568.7" y="386.9" transform="rotate(-90 568.7 386.9)" text-anchor="middle" font-size="10">500</text>
<text x="337.2" y="423.7" text-anchor="middle" font-size="10">1 Jan 05</text>
<text x="442.9" y="423.7" text-anchor="middle" font-size="10">1 Jul 05</text>
<text x="441.6" y="235.8" text-anchor="middle" font-size="13.5">Howard Springs (C<tspan font-size="9.5" dy="2.5">4</tspan><tspan dy="-2.5"> grass)</tspan></text>
<path d="M60 457.6H63.5V459.1H60ZM71 457.6H75.1V497.6H71ZM75.1 457.6H78.9V482.8H75.1ZM83.2 457.6H87.2V469.8H83.2ZM87.2 457.6H91.1V484.5H87.2ZM91.1 457.6H95V514H91.1ZM95 457.6H98.8V484H95ZM102.9 457.6H106.9V468.7H102.9ZM106.9 457.6H111V464.8H106.9ZM111 457.6H115V471.8H111ZM119.1 457.6H123.2V466H119.1ZM123.2 457.6H127V476.4H123.2ZM150.9 457.6H154.7V466.4H150.9ZM230.7 457.6H234.5V460.8H230.7ZM234.5 457.6H238.4V464.2H234.5Z" fill="#cccccc"/>
<clipPath id="c4"><rect x="49.5" y="457.6" width="226" height="173"/></clipPath>
<g clip-path="url(#c4)" fill="none" stroke-linejoin="round" stroke-linecap="round">
<polyline points="57.3,606 60,612 62,618.2 63.7,607.1 65.4,595.6 66.6,578.2 67.7,556 68.9,536 70.1,523.6 71.8,517.2 73.5,521.3 74.7,525.9 75.9,536.4 77,547.9 78.2,559.5 79.5,566 81,563 82.8,556 84.5,544.5 85.7,543.3 86.9,549.1 88.6,536.4 90.3,525.9 92.1,517.8 93.8,505.1 95,497.5 96.1,502.7 97.3,513.2 98.5,524 100.2,541.6 102,547.4 103.7,548.5 105.4,545.1 107.7,541.6 109.5,541.6 111.2,548.5 113.5,559 115.3,567.1 116.8,575.2 118.2,569.4 119.9,561.3 121.4,557.8 122.8,562.4 124.5,570.6 126.9,587.4 129.3,598.5 132.5,606 136.2,613.4 139.9,615.9 143.6,618.4 146.1,612.2 148.6,607.8 151.7,606.6 154.2,612.2 156,617.2 159.8,619.6 164.7,621.5 169.7,622.1 174.7,622.1 180.9,622.7 187.1,623.4 196,621.8 219.8,621.8 224.5,621.2 227.8,617.3 230.2,612 232.4,600 234.4,602 236.4,602 238.1,600.7 239,610.6 240.4,617.3 243.7,621.2 250.3,622.5 267.5,623.9" stroke="#ff0000" stroke-width="1.5"/>
<polyline points="57.3,604 60,610 62,617 63.7,606 65.4,594 66.6,577 67.7,556 68.9,534 70.6,529.4 72.4,532.9 74.1,542.1 75.9,552.6 77.6,559.5 79.5,565 81,562 82.2,559.5 84,539.8 85.4,536.9 86.9,538.7 88.6,532.9 90.3,527.7 92.1,525.9 93.8,522.4 95,517.8 96.1,524.8 97.9,538.7 99.6,544.5 101.3,546.2 103.1,544.5 104.8,536.4 106.6,530.6 108.3,527.1 110,529.4 111.8,536.4 113.5,539.3 115.3,542.7 116.8,549.7 118.2,546.2 119.9,542.7 121.4,540.4 122.8,543.9 124.5,550.9 125.7,553.2 126.9,560.1 128,569.4 129.2,578.7 131.2,588 134.3,594.8 137.4,599.1 140.5,602.3 143.6,605.4 146.1,601.6 148.6,597.3 151.7,596.7 154.2,601 156.7,607.2 159.8,611 164.7,615.3 170.9,617.2 177.2,618.4 183.4,619.6 190.8,620.9 200,621.5 219.8,621.5 224.5,621 227.8,616.5 230.2,609 231.8,599 233.7,595.5 235.7,597 237.7,600.5 238.6,609 239.7,615.5 241.7,619.5 245,621.2 250.3,622.5 267.5,623.5" stroke="#0000ff" stroke-width="1.5"/>
<polyline points="57.3,603 60,609 62,616 63.7,605 65.4,593 66.6,576 67.7,558 69.5,542.1 71.2,541 73,545.6 74.7,552.6 76.5,559 79,565 81,562 82.5,556 84,544.5 85.4,541 86.9,545.6 88.6,536.4 90.9,528.2 92.7,524.8 95,516.7 96.7,528.2 98.5,541 99.6,545.1 102,545.1 104.3,540.4 107.7,536.4 109.5,538.1 111.2,542.7 113.5,548.5 115.9,553.2 118.2,553.2 120.5,548.5 122.2,547.4 124,553.2 125.7,560.1 127.4,570.6 128.7,577.4 131.8,586.1 134.9,593.6 138,597.9 141.1,601 143.6,602.9 146.1,599.1 148.6,595.4 151.7,594.8 154.2,599.8 156.7,605.4 159.8,609.7 164.7,613.4 170.9,615.3 177.2,616.5 183.4,617.8 190.8,619 196,619.2 203.9,619.9 211.9,620.6 219.8,621.2 224.5,620.6 227.8,615.9 230.2,608 231.8,597.4 233.7,594.7 235.7,596.1 237.7,600 238.6,608 239.7,614.6 241.7,618.6 245,620.6 250.3,621.9 256.9,622.8 263.5,623.2 267.5,623.2" stroke="#a020f0" stroke-width="1.5"/>
<polyline points="57.3,603 60,610.5 62,618.7 63.7,607.6 65.4,596.1 66.6,578.7 67.7,556.5 68.9,539.2 70.6,533.4 72.4,539.2 74.1,548.4 76,558.5 78,565.5 80,562.5 82.8,545 84.5,540.3 86.3,541.5 88,536.9 89.8,535.1 92.1,534 94.4,530.5 95,537 97.3,550.9 99.6,555.5 101.4,556.7 103.7,553.2 106,545.1 108.3,541 110.6,546.2 113,553.2 115.3,557.8 117.6,561.3 119.9,555.5 121.7,552 124,557.8 125.7,565.9 127.4,575.2 129.8,584.5 132.1,590.3 134.4,594.9 136.7,598.4 137.4,605.2 140.5,608.3 143.6,611.5 146.1,605.2 148.6,600.9 151.7,600.9 154.2,605.2 156.7,611.5 159.8,615.2 164.7,618.3 170.9,620.1 177.2,621.4 183.4,622 190.8,622.6 200,622.9 224.5,622.4 227.8,617.8 230.2,611.1 232.4,599.9 235.1,598.5 237.7,601.2 238.6,611.1 240.4,619.1 243.7,622.4 250.3,623.7 267.5,624.4" stroke="#ffa500" stroke-width="1.5"/>
<polyline points="57.3,602.5 60,610 62,618.2 63.7,607.1 65.4,595.6 66.6,578.2 67.7,556 68.9,538.7 70.6,532.9 72.4,538.7 74.1,547.9 76,558 78,565 80,562 82.8,544.5 84.5,539.8 86.3,541 88,536.4 89.8,534.6 92.1,533.5 94.4,530 96.1,538.7 97.3,549.7 99.6,554.3 102,553.2 104.3,547.4 106.6,542.7 108.9,541.6 111.2,548.5 113.5,554.3 115.9,560.1 118.2,562.4 120.5,553.2 122.2,550.9 124,556.7 125.7,564.8 127.4,574 129.2,582.1 130.6,593.6 133.7,600.4 137.4,604.7 140.5,607.8 143.6,611 146.1,604.7 148.6,600.4 151.7,600.4 154.2,604.7 156.7,611 159.8,614.7 164.7,617.8 170.9,619.6 177.2,620.9 183.4,621.5 190.8,622.1 200,622.4 224.5,621.9 227.8,617.3 230.2,610.6 232.4,599.4 235.1,598 237.7,600.7 238.6,610.6 240.4,618.6 243.7,621.9 250.3,623.2 267.5,623.9" stroke="#00ee00" stroke-width="1.6" stroke-dasharray="3.2 2.8"/>
<polyline points="57.3,594.4 59.1,595 60.8,596.1 62,592.7 63.7,590.9 65.4,586.9 67.2,582.8 68.3,578.2 69.5,570.1 71.2,566 73,564.3 74.7,564.8 76.4,568.3 78.2,573.5 79.9,575.9 81.7,577 83.4,570.1 84.9,566.6 86.1,571.2 87.2,576.4 88.6,573 90.3,570.1 92.1,568.9 93.5,562 94.6,556.2 95.8,555 96.7,557.8 98.5,563.6 100.2,568.2 102.2,571.7 103.7,568.2 105.4,562.4 107.2,557.8 108.9,556.1 110.6,559.5 112.4,561.3 114.1,563 115.6,565.3 117,570 118.2,568.2 119.9,567.7 121.4,569.4 122.8,574.6 124.5,577.5 126.9,584.9 128.7,591.1 131.2,593.6 133.7,596 136.8,597.9 139.9,599.8 143,600.4 144.9,599.8 146.7,596.7 148.6,594.8 150.5,595.1 152.6,594.2 154.8,597.9 157.3,598.8 160.4,598.5 162.9,599.8 166,601.6 169.1,603.5 172.2,604.1 175.9,604.1 179.6,604.1 183.4,605.4 187.1,606.6 190.8,607.2 193.9,607.2 196.4,609.1 198.3,611.6 201.3,613.9 203.9,615.9 207.9,616.6 211.9,617.3 215.9,618.6 219.8,619.5 224.5,619.5 226.5,615.9 228.5,613.3 230.2,609.3 231.5,604 233.1,598.7 234.7,596.1 236.4,593.4 238.1,592.7 239.7,597.4 241.7,600 243.4,602.7 244.7,603.3 246.1,597.4 247.7,588.1 249,582.8 250.3,581.5 251.6,580.2 253.2,577.5 254.9,579.5 256.7,586.8 258.3,584.8 260.2,582.2 262.2,584.8 264.2,586.8 265.5,581.5 266.9,577.5 267.8,576.2" stroke="#000" stroke-width="3.2"/>
</g>
<rect x="49.5" y="457.6" width="226" height="173" fill="none" stroke="#707070" stroke-width="1"/>
<path d="M49.5 624.3H46.2M49.5 597.5H46.2M49.5 570.8H46.2M49.5 544H46.2M49.5 517.3H46.2M49.5 490.5H46.2M49.5 463.8H46.2M275.5 457.6H278.8M275.5 491.5H278.8M275.5 525.3H278.8M275.5 559.2H278.8M275.5 593H278.8M275.5 626.9H278.8M57.9 630.6V633.9M163.6 630.6V633.9" stroke="#909090" stroke-width="1" fill="none"/>
<text x="43.1" y="624.3" transform="rotate(-90 43.1 624.3)" text-anchor="middle" font-size="10">0</text>
<text x="43.1" y="597.5" transform="rotate(-90 43.1 597.5)" text-anchor="middle" font-size="10">1</text>
<text x="43.1" y="570.8" transform="rotate(-90 43.1 570.8)" text-anchor="middle" font-size="10">2</text>
<text x="43.1" y="544" transform="rotate(-90 43.1 544)" text-anchor="middle" font-size="10">3</text>
<text x="43.1" y="517.3" transform="rotate(-90 43.1 517.3)" text-anchor="middle" font-size="10">4</text>
<text x="43.1" y="490.5" transform="rotate(-90 43.1 490.5)" text-anchor="middle" font-size="10">5</text>
<text x="43.1" y="463.8" transform="rotate(-90 43.1 463.8)" text-anchor="middle" font-size="10">6</text>
<text x="289.7" y="457.6" transform="rotate(-90 289.7 457.6)" text-anchor="middle" font-size="10">0</text>
<text x="289.7" y="491.5" transform="rotate(-90 289.7 491.5)" text-anchor="middle" font-size="10">50</text>
<text x="289.7" y="525.3" transform="rotate(-90 289.7 525.3)" text-anchor="middle" font-size="10">100</text>
<text x="289.7" y="559.2" transform="rotate(-90 289.7 559.2)" text-anchor="middle" font-size="10">150</text>
<text x="289.7" y="593" transform="rotate(-90 289.7 593)" text-anchor="middle" font-size="10">200</text>
<text x="289.7" y="626.9" transform="rotate(-90 289.7 626.9)" text-anchor="middle" font-size="10">250</text>
<text x="57.9" y="641.5" text-anchor="middle" font-size="10">1 Jan 00</text>
<text x="163.6" y="641.5" text-anchor="middle" font-size="10">1 Jul 00</text>
<text x="162.5" y="453.3" text-anchor="middle" font-size="13.5">Mopane (C<tspan font-size="9.5" dy="2.5">4</tspan><tspan dy="-2.5"> grass)</tspan></text>
<path d="M338.5 457.6H342.7V488.9H338.5ZM342.7 457.6H346.7V469.3H342.7ZM346.7 457.6H350.8V489.8H346.7ZM350.8 457.6H354.7V478.8H350.8ZM354.7 457.6H358.8V463.6H354.7ZM362.8 457.6H367V502.2H362.8ZM367 457.6H370.9V471.6H367ZM375.2 457.6H379.3V473.3H375.2ZM379.3 457.6H383.3V480.5H379.3ZM383.3 457.6H387.4V463.7H383.3ZM387.4 457.6H391.8V508.9H387.4ZM391.8 457.6H395.7V477H391.8ZM395.7 457.6H399.9V474.7H395.7ZM399.9 457.6H403.8V467.7H399.9ZM403.8 457.6H408V463.7H403.8ZM408 457.6H411.9V461.4H408ZM411.9 457.6H416.1V471.5H411.9ZM432.6 457.6H437V490.3H432.6ZM437 457.6H441.1V467.5H437ZM460.9 457.6H464.8V459.8H460.9ZM464.8 457.6H468.9V461.7H464.8ZM494.3 457.6H498.1V459.8H494.3ZM502.5 457.6H506.3V462.6H502.5ZM506.3 457.6H510.4V478.2H506.3ZM510.4 457.6H514.6V462.6H510.4ZM514.6 457.6H518.6V475H514.6ZM518.6 457.6H522.8V501.6H518.6ZM522.8 457.6H526.8V495.4H522.8ZM526.8 457.6H531V479.4H526.8ZM531 457.6H535.2V479.8H531ZM535.2 457.6H539V527H535.2ZM539 457.6H543.2V481.7H539ZM543.2 457.6H547V469.3H543.2Z" fill="#cccccc"/>
<clipPath id="c5"><rect x="328.8" y="457.6" width="225.7" height="173"/></clipPath>
<g clip-path="url(#c5)" fill="none" stroke-linejoin="round" stroke-linecap="round">
<polyline points="336.7,559.9 338.5,560.5 340.1,565.3 342.1,564.1 343.6,566.5 345,561.7 346.8,558.2 348.6,553.4 350.4,548.1 352.4,545.1 354.3,547.5 356.3,550.5 358.1,555.8 359.8,562.9 361.6,564.1 363,560.5 364.9,558.2 366.6,559.3 368.1,555.8 369.9,559.9 372,562.9 373.7,560.5 375.6,557.6 377.6,555.8 379.4,552.2 381.2,553.4 382.9,555.8 384.7,559.3 386.5,561.1 388.3,560.5 390,557 391.8,549.9 393.6,544.5 395.4,542.8 397.1,545.1 398.9,548.7 400.2,549.8 402.4,553.5 404.7,555.7 406.9,558.7 409.1,555 411.3,550.6 413.6,547.6 415.8,546.9 418,550.6 420.2,556.5 422.4,562.4 424.7,567.6 426.9,572.8 429.1,577.2 430.9,578 433.3,575 435.8,568.3 438,563.1 440.2,560.2 442.4,559.4 444.7,562.4 446.9,566.9 449.1,571.3 451.3,574.3 453.6,575.7 455.8,575 458,575.7 460.2,574.3 462.4,575 464.7,577.2 466.9,580.2 469.1,584.6 471.3,588.3 473.6,591.3 475.8,593.5 477.2,596.5 479.4,598.7 481.7,600.9 483.9,603.1 486.1,605.4 488.3,607.6 490.6,604.6 492.8,603.1 495,601.7 497.2,600.2 499.4,604.6 501.7,598.7 503.9,595.7 506.1,592.8 508.3,588.3 510.6,586.1 512.8,583.1 515,577.2 517.2,568.3 519.4,560.9 521.7,558.7 523.9,559.4 526.1,563.9 528.3,558 530.6,554.3 532.8,552 535,548.3 537.2,547.6 539.4,549.1 541.7,552 543.9,553.5 546.1,555.7" stroke="#ff0000" stroke-width="1.5"/>
<polyline points="336.7,551.6 339.1,554 341.5,559.3 343.8,556.4 345.6,551.1 347.4,550.5 349.2,542.8 351,536.8 352.1,536.3 353.9,540.4 355.7,542.2 357.5,544 359.2,551.1 361,555.2 362.8,551.6 364.6,550.5 366.3,552.2 368.1,547.5 369.9,551.6 371.7,554.6 373.5,552.2 375.2,550.5 377,548.7 378.8,546.3 380.6,544.5 382.3,548.7 384.1,552.8 385.9,555.8 387.7,554.6 389.4,549.9 391.2,542.8 393,538 394.8,535.7 396.6,538 398.3,539.2 400.2,543.1 402.4,545.4 404.7,548.3 406.9,549.8 409.1,543.9 411.3,538.7 413.6,534.3 415.8,532 418,535 420.2,539.4 422.4,543.9 424.7,549.8 426.9,555 429.1,560.9 431.3,564.6 433.6,562.4 435.8,554.3 438,546.1 440.2,540.2 442.4,537.2 444.7,537.2 446.9,540.2 449.1,542.4 451.3,544.6 453.6,543.9 455.8,541.7 458,540.2 460.2,538.7 462.4,537.2 464.7,537.2 466.9,539.4 469.1,546.1 471.3,552 473.6,557.2 475.8,560.9 477.2,562.4 479.4,566.9 481.7,572 483.9,577.2 486.1,581.7 488.3,586.9 490.6,583.1 492.8,583.1 495,581.7 497.2,575.7 499.4,580.2 501.7,575.7 503.9,572.8 506.1,569.8 508.3,560.2 510.6,558.7 512.8,558 515,550.6 517.2,543.9 519.4,538 521.7,538 523.9,540.2 526.1,541.7 528.3,543.9 530.6,534.3 532.8,533.5 535,532.8 537.2,533.5 539.4,535.7 541.7,538.7 543.9,540.9 546.1,546.1" stroke="#0000ff" stroke-width="1.5"/>
<polyline points="336.7,558.5 340.3,563.5 343.3,565 345.6,558.5 348.6,551 351.5,542.5 353.9,545 356.9,548 359.8,559.5 361.6,562 364,559 366.3,556.5 368.1,552.5 369.9,556.5 372.3,560.5 374.6,558 377,555 379.4,550.5 381.7,553 384.1,557.5 386.5,559.5 388.9,558 391.2,548.5 393.6,542.5 395.4,540.5 397.7,543 399.5,545.5 402.4,549.1 404.7,552.8 406.9,555 409.1,549.1 411.3,542.4 413.6,538.7 415.8,535.7 418,538.7 420.2,544.6 422.4,549.8 424.7,555.7 426.9,562.4 429.1,568.3 431.3,572 433.6,569.8 435.8,560.9 438,552 440.2,546.1 442.4,543.9 444.7,546.1 446.9,549.8 449.1,553.5 451.3,556.5 453.6,558.7 455.8,558.7 458,559.4 460.2,558.7 462.4,559.4 464.7,563.1 466.9,567.6 469.1,573.5 471.3,578 473.6,582.4 475.8,584.6 477.2,584.6 479.4,587.6 481.7,591.3 483.9,594.3 486.1,597.2 488.3,600.2 490.6,598 492.8,596.5 495,595 497.2,592 499.4,597.2 501.7,591.3 503.9,587.6 506.1,584.6 508.3,580.2 510.6,575.7 512.8,573.5 515,566.9 517.2,557.2 519.4,549.1 521.7,549.8 523.9,549.1 526.1,550.6 528.3,546.9 530.6,543.1 532.8,538.7 535,538.7 537.2,540.2 539.4,540.9 541.7,543.1 543.9,546.1 546.1,551.3" stroke="#a020f0" stroke-width="1.5"/>
<polyline points="336.7,557.6 340.3,562.3 343.3,564.1 345.6,557 348.6,549.3 351.5,540.4 353.9,543.4 356.9,546.3 359.8,557.6 361.6,560.6 364,557.6 366.3,555.2 368.1,551.1 369.9,555.2 372.3,558.8 374.6,556.4 377,553.4 379.4,549.3 381.7,551.7 384.1,555.8 386.5,558.2 388.9,556.4 391.2,546.9 393.6,541 395.4,539.2 397.7,542.2 399.5,545.1 402.4,547.4 404.7,550.1 406.9,551.6 409.1,545.6 411.3,540.6 413.6,536.1 415.8,533.9 418,536.9 420.2,541.3 422.4,545.9 424.7,551.9 426.9,557.1 429.1,563.1 431.3,567.5 433.6,565.1 435.8,556.6 438,548.6 440.2,542.1 442.4,539.3 444.7,539.3 446.9,542.3 449.1,544.6 451.3,546.6 453.6,546 455.8,543.8 458,542.3 460.2,540.8 462.4,539.3 464.7,539.3 466.9,541.6 469.1,548.6 471.3,554.6 473.6,560.6 475.8,564.1 477.2,568.2 479.4,572.6 481.7,577.1 483.9,581.5 486.1,585.2 488.3,589.7 490.6,586.7 492.8,586.7 495,585.2 497.2,581.5 499.4,586.7 501.7,580.8 503.9,576.3 506.1,574.1 508.3,570.4 510.6,567.5 512.8,564.5 515,558.6 517.2,552.6 519.4,549 521.7,549.5 523.9,553 526.1,550.6 528.3,555 530.6,550 532.8,548.9 535,547.5 537.2,548.2 539.4,549.7 541.7,551.9 543.9,551.2 546.1,554.9" stroke="#ffa500" stroke-width="1.5"/>
<polyline points="336.7,557 340.3,561.7 343.3,563.5 345.6,556.4 348.6,548.7 351.5,539.8 353.9,542.8 356.9,545.7 359.8,557 361.6,560 364,557 366.3,554.6 368.1,550.5 369.9,554.6 372.3,558.2 374.6,555.8 377,552.8 379.4,548.7 381.7,551.1 384.1,555.2 386.5,557.6 388.9,555.8 391.2,546.3 393.6,540.4 395.4,538.6 397.7,541.6 399.5,544.5 402.4,546.8 404.7,549.5 406.9,551 409.1,545 411.3,540 413.6,535.5 415.8,533.3 418,536.3 420.2,540.7 422.4,545.3 424.7,551.3 426.9,556.5 429.1,562.5 431.3,566.9 433.6,564.5 435.8,556 438,548 440.2,541.5 442.4,538.7 444.7,538.7 446.9,541.7 449.1,544 451.3,546 453.6,545.4 455.8,543.2 458,541.7 460.2,540.2 462.4,538.7 464.7,538.7 466.9,541 469.1,548 471.3,554 473.6,560 475.8,563.5 477.2,567.6 479.4,572 481.7,576.5 483.9,580.9 486.1,584.6 488.3,589.1 490.6,586.1 492.8,586.1 495,584.6 497.2,580.9 499.4,586.1 501.7,580.2 503.9,575.7 506.1,573.5 508.3,569.8 510.6,566.9 512.8,563.9 515,558 517.2,552 519.4,549.8 521.7,550.6 523.9,555 526.1,552 528.3,556.5 530.6,550.6 532.8,548.3 535,546.9 537.2,547.6 539.4,549.1 541.7,551.3 543.9,550.6 546.1,554.3" stroke="#00ee00" stroke-width="1.6" stroke-dasharray="3.2 2.8"/>
<polyline points="336.7,552.8 338.5,552.8 340.1,557 342.1,559.3 343.8,559.9 345.6,558.2 347.2,559.9 348.6,555.8 350.4,549.9 351.9,546.3 353.6,545.1 355.1,546.3 356.9,548.7 358.6,552.8 360.4,557.6 362.2,558.2 364,553.4 365.8,548.7 367.3,542.2 368.7,544 370.1,548.1 371.7,551.1 373.5,549.9 374.9,548.1 376.4,545.7 378,540.4 379.4,537.4 380.6,535.1 382,538 383.5,540.4 385.1,542.8 386.7,545.7 388.6,546.3 390.3,542.8 391.8,538 393.6,534.5 395.4,532.7 397.1,534.5 398.9,536.8 400.2,538.7 402.4,538.7 404.7,541.7 406.9,545.4 409.1,539.4 411.3,532.8 413.6,529.8 415.8,526.1 418,529.1 420.2,530.6 422.4,532 424.7,535.7 426.9,542.4 428.4,549.1 430.3,555.7 432.4,558.7 434.3,557.2 436.2,550.6 438,543.1 439.5,537.2 441.7,530.6 443.9,529.8 446.1,530.6 448.4,529.8 450.6,528.3 452.8,526.9 455,526.1 457.3,525.4 459,524.6 461,525.4 463.2,523.1 465.4,523.9 467.3,528.3 469.1,532.8 471.3,537.2 473.6,541.7 475.8,546.9 477.2,549.8 479.4,558 481.7,563.9 483.9,566.1 486.1,570.6 488.3,576.5 490.6,577.2 492.8,576.5 495,577.2 496.9,569.1 498.4,568.3 500.2,575.7 502,571.3 503.9,570.6 506.1,572 507.9,566.9 509.8,565.4 512,563.9 514.3,561.7 516.5,555 518.7,548.3 520.9,542.4 523.1,541.7 525.4,539.4 527.1,538 529.1,543.1 531,536.5 532.8,537.2 535,541.7 537.2,546.1 539.4,551.3 541.7,556.5 543.9,557.2 546.1,558.7" stroke="#000" stroke-width="3.2"/>
</g>
<rect x="328.8" y="457.6" width="225.7" height="173" fill="none" stroke="#707070" stroke-width="1"/>
<path d="M328.8 624.8H325.5M328.8 601.8H325.5M328.8 578.8H325.5M328.8 555.9H325.5M328.8 532.9H325.5M328.8 509.9H325.5M328.8 486.9H325.5M328.8 463.9H325.5M554.5 457.6H557.8M554.5 495H557.8M554.5 532.3H557.8M554.5 569.7H557.8M554.5 607H557.8M337.2 630.6V633.9M442.9 630.6V633.9" stroke="#909090" stroke-width="1" fill="none"/>
<text x="322.4" y="624.8" transform="rotate(-90 322.4 624.8)" text-anchor="middle" font-size="10">0</text>
<text x="322.4" y="601.8" transform="rotate(-90 322.4 601.8)" text-anchor="middle" font-size="10">1</text>
<text x="322.4" y="578.8" transform="rotate(-90 322.4 578.8)" text-anchor="middle" font-size="10">2</text>
<text x="322.4" y="555.9" transform="rotate(-90 322.4 555.9)" text-anchor="middle" font-size="10">3</text>
<text x="322.4" y="532.9" transform="rotate(-90 322.4 532.9)" text-anchor="middle" font-size="10">4</text>
<text x="322.4" y="509.9" transform="rotate(-90 322.4 509.9)" text-anchor="middle" font-size="10">5</text>
<text x="322.4" y="486.9" transform="rotate(-90 322.4 486.9)" text-anchor="middle" font-size="10">6</text>
<text x="322.4" y="463.9" transform="rotate(-90 322.4 463.9)" text-anchor="middle" font-size="10">7</text>
<text x="568.7" y="457.6" transform="rotate(-90 568.7 457.6)" text-anchor="middle" font-size="10">0</text>
<text x="568.7" y="495" transform="rotate(-90 568.7 495)" text-anchor="middle" font-size="10">100</text>
<text x="568.7" y="532.3" transform="rotate(-90 568.7 532.3)" text-anchor="middle" font-size="10">200</text>
<text x="568.7" y="569.7" transform="rotate(-90 568.7 569.7)" text-anchor="middle" font-size="10">300</text>
<text x="568.7" y="607" transform="rotate(-90 568.7 607)" text-anchor="middle" font-size="10">400</text>
<text x="337.2" y="641.5" text-anchor="middle" font-size="10">1 Jan 02</text>
<text x="442.9" y="641.5" text-anchor="middle" font-size="10">1 Jul 02</text>
<text x="441.6" y="453.3" text-anchor="middle" font-size="13.5">Palang (Ev broad)</text>
<text x="13.2" y="326.3" transform="rotate(-90 13.2 326.3)" text-anchor="middle" font-size="17.9">Evapotranspiration (mm/day)</text>
<text x="600.3" y="325.9" transform="rotate(-90 600.3 325.9)" text-anchor="middle" font-size="17.9">Precipitation (mm/week)</text>
<rect x="68.3" y="667.3" width="7.6" height="7.2" fill="#000" stroke="#000" stroke-width="0.8"/>
<text x="79.7" y="674.6" font-size="11.5">Observed</text>
<rect x="142.1" y="667.3" width="7.6" height="7.2" fill="#ff0000" stroke="#b00000" stroke-width="0.8"/>
<text x="153.2" y="674.6" font-size="11.5">default</text>
<rect x="204.6" y="667.3" width="7.6" height="7.2" fill="#0000ff" stroke="#0000a0" stroke-width="0.8"/>
<text x="214.8" y="674.6" font-size="11.5">altP</text>
<rect x="255.1" y="667.3" width="7.6" height="7.2" fill="#a020f0" stroke="#6a10a0" stroke-width="0.8"/>
<text x="265.3" y="674.6" font-size="11.5">altP PDM</text>
<rect x="328.6" y="667.3" width="7.6" height="7.2" fill="#ffa500" stroke="#a06800" stroke-width="0.8"/>
<text x="339.7" y="674.6" font-size="11.5">altP PDM−VG</text>
<rect x="422.9" y="667.3" width="7.6" height="7.2" fill="#00ff00" stroke="#00a000" stroke-width="0.8"/>
<text x="433.7" y="674.6" font-size="11.5">altP PDM−VG−PHEN</text>
</svg></body></html>
